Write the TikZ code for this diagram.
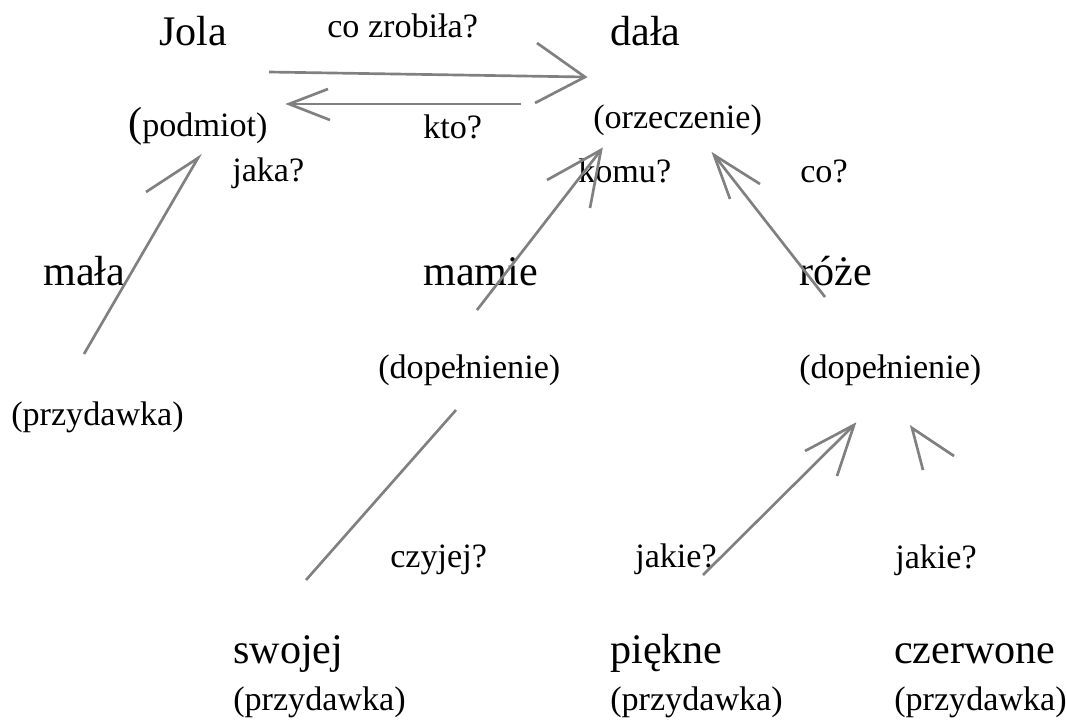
\documentclass[tikz,border=0pt]{standalone}
\usepackage{fontspec}
\setmainfont{Liberation Serif}
\usetikzlibrary{positioning}
\definecolor{lineGray}{HTML}{808080}
\tikzset{
  word/.style={anchor=base west, inner sep=0pt, font=\fontsize{31.6}{37}\selectfont},
  role/.style={anchor=base west, inner sep=0pt, font=\fontsize{25.6}{30}\selectfont},
  link/.style={draw=lineGray, line width=2pt},
}

\begin{document}
\begin{tikzpicture}[x=0.75pt, y=-0.75pt]
\useasboundingbox (0,0) rectangle (1066,721);

% words
\node[word] (jola) at (159,45) {Jola};
\node[word] (dala) at (610,45) {dała};
\node[word] (mala) at (43,285) {mała};
\node[word] (mamie) at (423,285) {mamie};
\node[word] (roze) at (799,285) {róże};
\node[word] (swojej) at (233,663) {swojej};
\node[word] (piekne) at (610,663) {piękne};
\node[word] (czerwone) at (894,663) {czerwone};

% parts of the sentence
\node[role] (podmiot) at (128,136) {{\fontsize{31.6}{37}\selectfont(}podmiot)};
\node[role] (orzeczenie) at (593,128) {(orzeczenie)};
\node[role] (przyd1) at (11,425) {(przydawka)};
\node[role] (dopel1) at (378,378) {(dopełnienie)};
\node[role] (dopel2) at (799,378) {(dopełnienie)};
\node[role] (przyd2) at (233,710) {(przydawka)};
\node[role] (przyd3) at (610,710) {(przydawka)};
\node[role] (przyd4) at (894,710) {(przydawka)};

% questions
\node[role] (qzrobila) at (327,37) {co zrobiła?};
\node[role] (qkto) at (423,138) {kto?};
\node[role] (qjaka) at (232,181) {jaka?};
\node[role] (qkomu) at (578,182) {komu?};
\node[role] (qco) at (800,182) {co?};
\node[role] (qczyjej) at (390,567) {czyjej?};
\node[role] (qjakie1) at (635,567) {jakie?};
\node[role] (qjakie2) at (895,568) {jakie?};

% arrow ends
\coordinate (t1) at (269,72);  \coordinate (h1) at (585,77);
\coordinate (t2) at (521,104); \coordinate (h2) at (289,104);
\coordinate (t3) at (84,354);  \coordinate (h3) at (198,158);
\coordinate (t4) at (477,310); \coordinate (h4) at (601,150);
\coordinate (t5) at (825,297); \coordinate (h5) at (714,155);
\coordinate (t6) at (306,580); \coordinate (h6) at (456,410);
\coordinate (t7) at (703,575); \coordinate (h7) at (854,425);
\coordinate (h8) at (912,428);

% arrows
\draw[link] (t1) -- (h1);
\draw[link] (537,43) -- (h1) -- (535,103);
\draw[link] (t2) -- (h2);
\draw[link] (328,89) -- (h2) -- (330,120);
\draw[link] (t3) -- (h3) -- (146,192);
\draw[link] (t4) -- (h4);
\draw[link] (547,180) -- (h4) -- (590,208);
\draw[link] (t5) -- (h5);
\draw[link] (760,184) -- (h5) -- (730,199);
\draw[link] (t6) -- (h6);
\draw[link] (t7) -- (h7);
\draw[link] (805,451) -- (h7) -- (837,476);
\draw[link] (923,470) -- (h8) -- (954,456);
\end{tikzpicture}
\end{document}
